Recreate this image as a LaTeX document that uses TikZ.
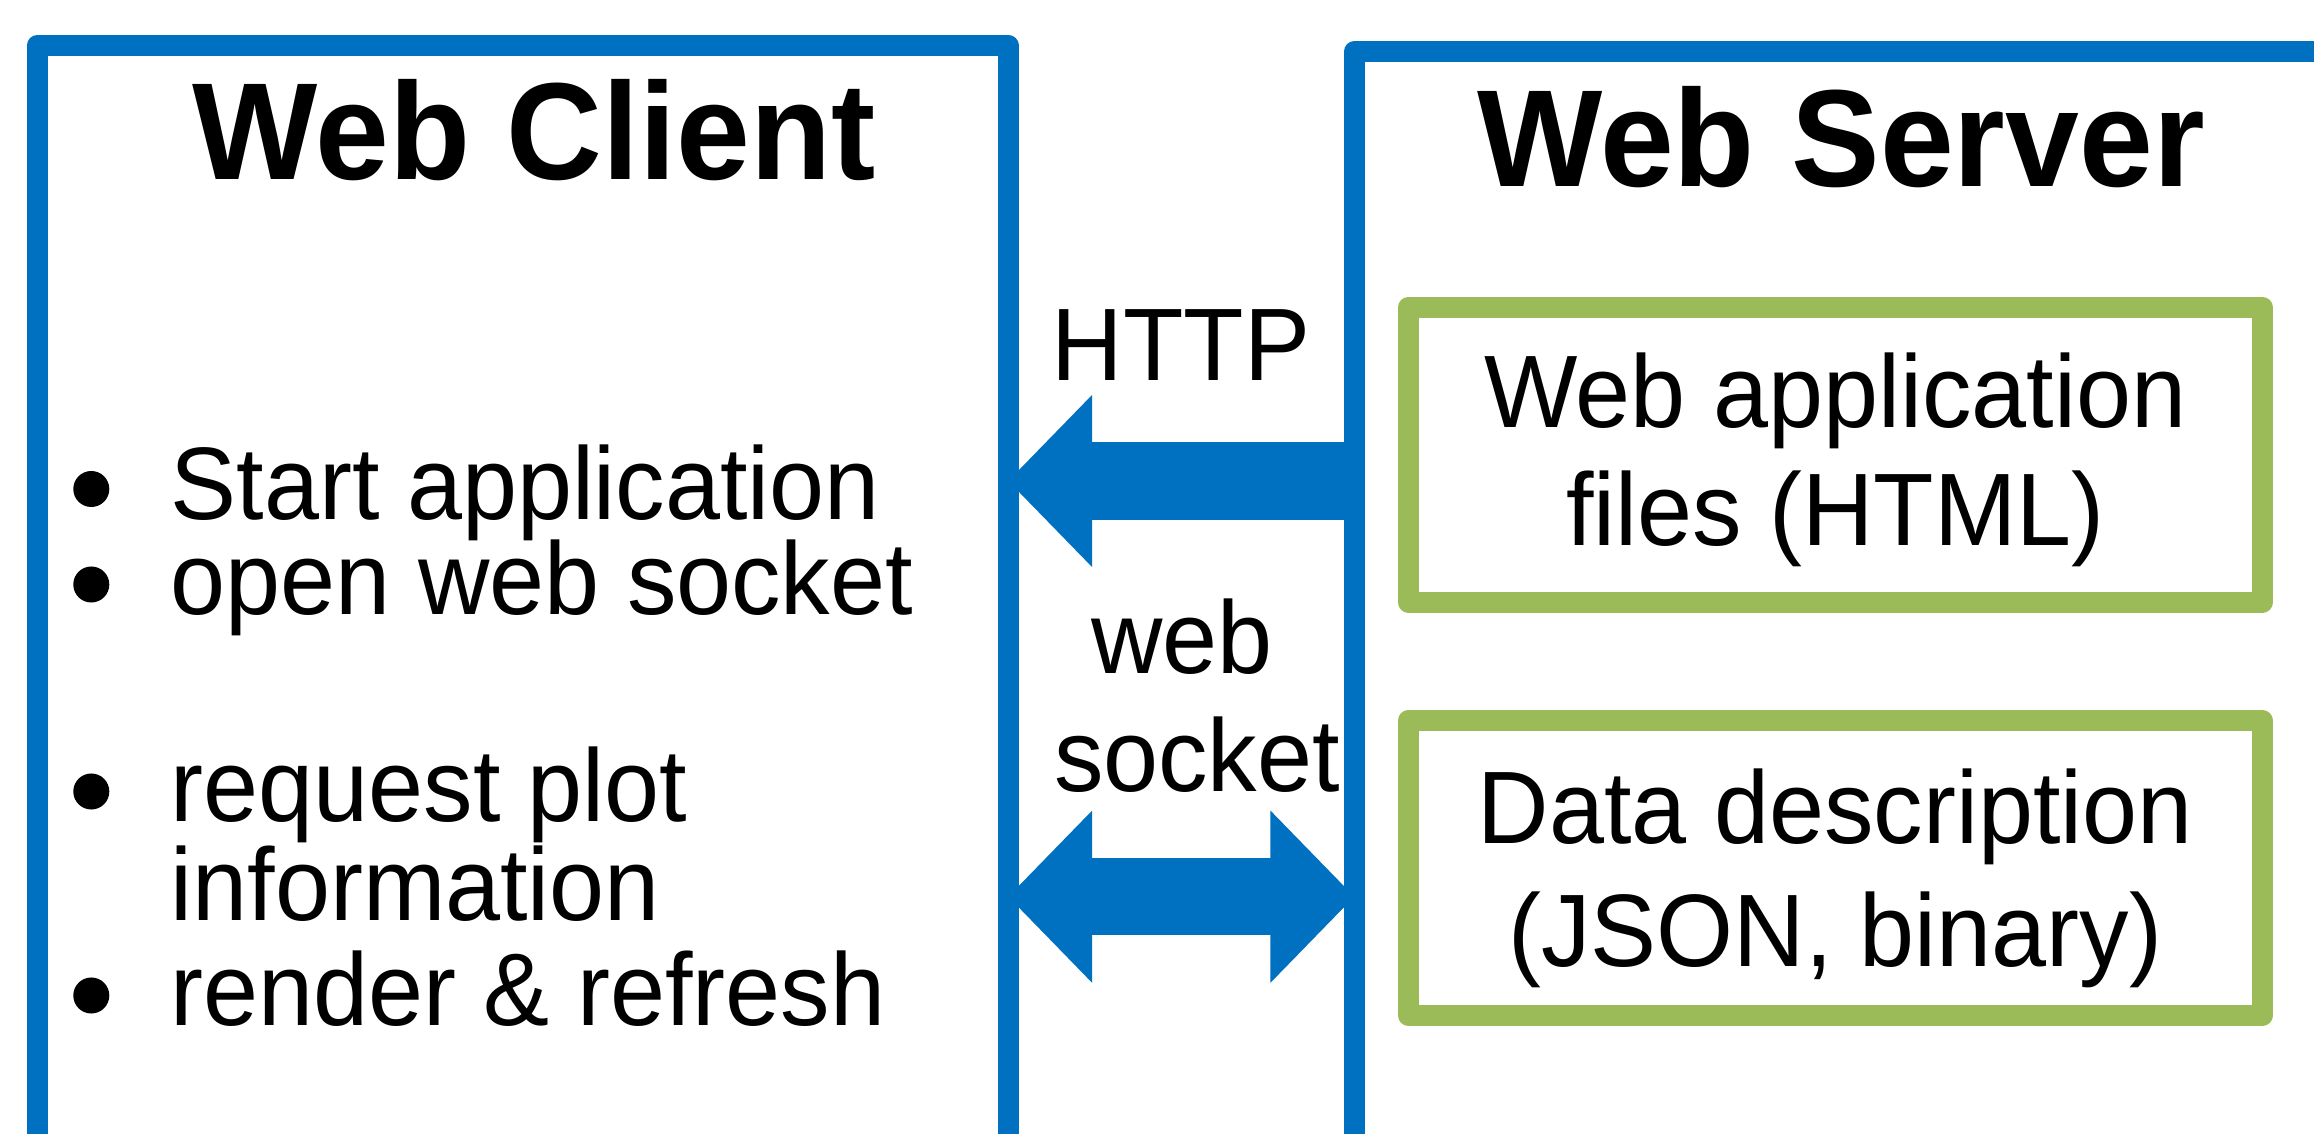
\documentclass[tikz,border=0pt]{standalone}
\usepackage{fontspec}
\setmainfont[FakeStretch=0.96]{Liberation Sans}
\usetikzlibrary{arrows.meta}
\definecolor{frameblue}{RGB}{0,112,192}
\definecolor{framegreen}{RGB}{155,187,89}
\tikzset{
  bigframe/.style={draw=frameblue, line width=0.21cm, line join=round, fill=white, anchor=north west, inner sep=0pt, outer sep=0pt},
  greenbox/.style={draw=framegreen, line width=0.21cm, line join=round, fill=white, inner sep=0pt, outer sep=0pt, minimum width=8.53cm, minimum height=2.95cm},
  titletext/.style={font=\fontsize{39.3}{47}\selectfont\bfseries, anchor=base, inner sep=0pt},
  bodytext/.style={font=\fontsize{29.3}{34}\selectfont, anchor=base, inner sep=0pt},
  listtext/.style={font=\fontsize{29.3}{34}\selectfont, anchor=base west, inner sep=0pt},
  bulletdot/.style={circle, fill=black, minimum size=0.36cm, inner sep=0pt},
  bigarrow/.style={draw=frameblue, line width=0.77cm},
  bigtip/.tip={Triangle[length=0.84cm, width=1.67cm]}
}
\begin{document}
\begin{tikzpicture}[x=0.01cm, y=-0.01cm]
\useasboundingbox (0,0) rectangle (2314,1134);
\clip (0,0) rectangle (2314,1134);
\fill[white] (0,0) rectangle (2314,1134);
% outer frames
\node[bigframe, minimum width=9.703cm, minimum height=12cm] (client) at (37.2,45.5) {};
\node[bigframe, minimum width=11cm, minimum height=12cm] (server) at (1354.5,51.5) {};
% titles
\node[titletext] (clienttitle) at (534,180) {Web Client};
\node[titletext] (servertitle) at (1841,187) {Web Server};
% green boxes
\node[greenbox] (files) at (1835.3,454.7) {};
\node[greenbox] (data) at (1835.3,868) {};
\node[bodytext] (files1) at (1835.3,428) {Web application};
\node[bodytext] (files2) at (1835.3,546) {files (HTML)};
\node[bodytext] (data1) at (1835.3,844) {Data description};
\node[bodytext] (data2) at (1835.3,967) {(JSON, binary)};
% list
\node[bulletdot] (b1) at (91.3,489) {};
\node[listtext] (l1) at (170,519.5) {Start application};
\node[bulletdot] (b2) at (91.3,584.5) {};
\node[listtext] (l2) at (170,615) {open web socket};
\node[bulletdot] (b3) at (91.3,791.5) {};
\node[listtext] (l3) at (170,822) {request plot};
\node[listtext] (l3b) at (170,921) {information};
\node[bulletdot] (b4) at (91.3,995.5) {};
\node[listtext] (l4) at (170,1026) {render \& refresh};
% labels
\node[bodytext] (http) at (1181,381) {HTTP};
\node[bodytext] (ws1) at (1182,674) {web};
\node[bodytext] (ws2) at (1197,792) {socket};
% arrows
\coordinate (hy) at (0,481);
\coordinate (wy) at (0,896.7);
\draw[bigarrow, -{bigtip}] (server.west |- hy) -- (client.east |- hy);
\draw[bigarrow, {bigtip}-{bigtip}] (client.east |- wy) -- (server.west |- wy);
\end{tikzpicture}
\end{document}
